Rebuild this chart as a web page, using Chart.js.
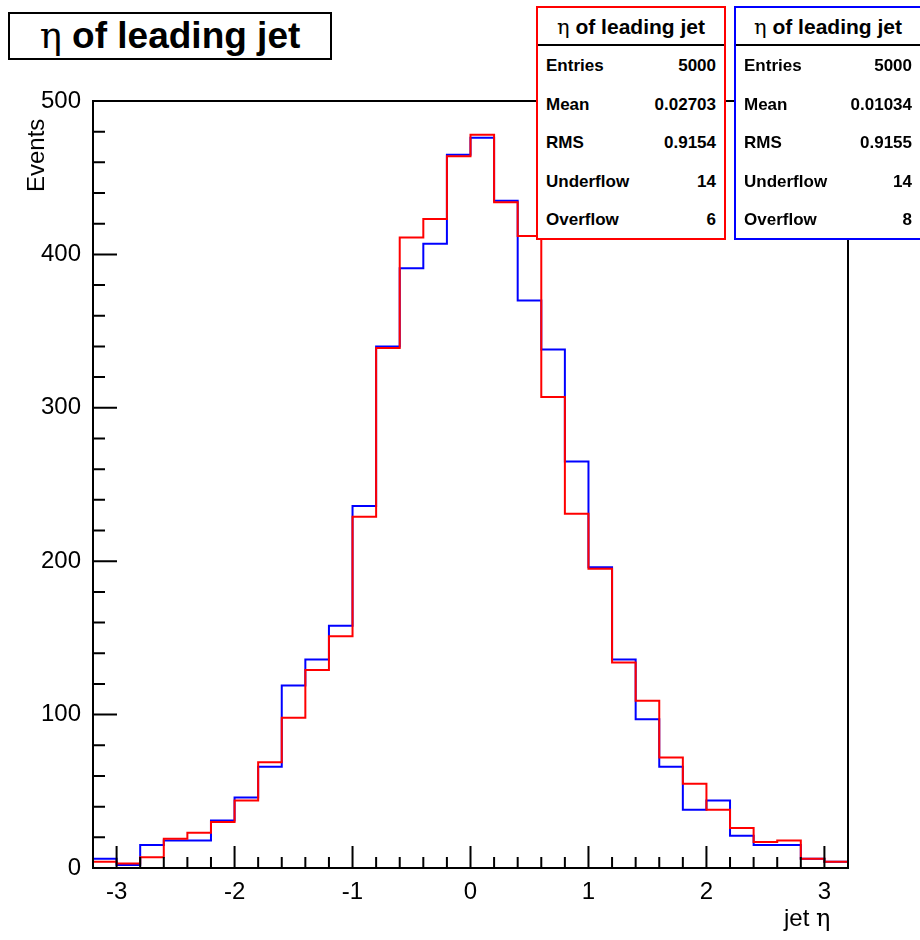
<!DOCTYPE html>
<html>
<head>
<meta charset="utf-8">
<script src="https://cdn.jsdelivr.net/npm/chart.js@4.4.0/dist/chart.umd.min.js"></script>
<style>
  body { margin: 0; background: #fff; font-family: "Liberation Sans", Arial, sans-serif; }
  #wrap { position: relative; width: 920px; height: 940px; }
  canvas { position: absolute; left: 0; top: 0; }
  .title { position: absolute; left: 8px; top: 12px; width: 320px; height: 44px; border: 2px solid #000;
           font-size: 37px; font-weight: bold; line-height: 44px; text-align: center; background: #fff; }
  .title span { font-weight: normal; font-family: "DejaVu Serif", serif; }
  .stat { position: absolute; top: 6px; height: 230px; background: #fff; border: 2px solid; font-weight: bold; font-size: 17px; }
  .stat .hd { height: 36px; line-height: 38px; text-align: center; font-size: 21px; border-bottom: 2px solid; white-space: nowrap; }
  .stat .hd span { font-weight: normal; font-family: "DejaVu Serif", serif; }
  .stat .row { position: relative; height: 38.5px; line-height: 40px; padding: 0 8px; }
  .stat .row b { position: absolute; right: 8px; }
  .axt { position: absolute; font-size: 24px; }
</style>
</head>
<body>
<div id="wrap">
  <canvas id="c" width="920" height="940"></canvas>
  <div class="title"><span>η</span> of leading jet</div>
  <div class="stat" id="redBox" style="left:536px;width:186px;border-color:#f00"></div>
  <div class="stat" id="blueBox" style="left:734px;width:184px;border-color:#00f"></div>
  <div class="axt" style="left:22px;transform:rotate(-90deg);transform-origin:left top;top:192px">Events</div>
  <div class="axt" style="left:784px;top:904px">jet <span style="font-family:'DejaVu Serif',serif">η</span></div>
</div>
<script>
// ======= Data =======
const binEdges = [-3.2,-3.0,-2.8,-2.6,-2.4,-2.2,-2.0,-1.8,-1.6,-1.4,-1.2,-1.0,-0.8,-0.6,-0.4,-0.2,
                  0.0,0.2,0.4,0.6,0.8,1.0,1.2,1.4,1.6,1.8,2.0,2.2,2.4,2.6,2.8,3.0,3.2];
const blueCounts = [6,2,15,18,18,31,46,66,119,136,158,236,340,391,407,465,
                    476,435,370,338,265,196,136,97,66,38,44,21,15,15,6,4];
const redCounts  = [4,3,7,19,23,30,44,69,98,129,151,229,339,411,423,464,
                    478,434,412,307,231,195,134,109,72,55,38,26,17,18,6,4];
const statLabels = ["Entries","Mean","RMS","Underflow","Overflow"];
const redStats  = ["5000","0.02703","0.9154","14","6"];
const blueStats = ["5000","0.01034","0.9155","14","8"];

// ======= Stat boxes =======
function fillBox(id, stats) {
  let html = '<div class="hd"><span>η</span> of leading jet</div>';
  statLabels.forEach((l, i) => { html += `<div class="row">${l}<b>${stats[i]}</b></div>`; });
  document.getElementById(id).innerHTML = html;
}
fillBox("redBox", redStats);
fillBox("blueBox", blueStats);

// each bin's value at its left edge, plus a closing point at the last edge
function toPoints(counts) {
  const pts = counts.map((v, i) => ({ x: binEdges[i], y: v }));
  pts.push({ x: binEdges[binEdges.length - 1], y: counts[counts.length - 1] });
  return pts;
}

// ======= ROOT-style frame + ticks =======
const frameTicks = {
  id: "frameTicks",
  afterDraw(chart) {
    const { ctx, chartArea: a, scales: { x, y } } = chart;
    ctx.save();
    ctx.strokeStyle = "#000";
    ctx.lineWidth = 2;
    ctx.strokeRect(a.left, a.top, a.right - a.left, a.bottom - a.top);
    ctx.beginPath();
    for (let i = -16; i <= 16; i++) {
      const px = x.getPixelForValue(i * 0.2);
      const len = i % 5 === 0 ? 22 : 11;
      ctx.moveTo(px, a.bottom); ctx.lineTo(px, a.bottom - len);
    }
    for (let v = 0; v <= 500; v += 20) {
      const py = y.getPixelForValue(v);
      const len = v % 100 === 0 ? 24 : 12;
      ctx.moveTo(a.left, py); ctx.lineTo(a.left + len, py);
    }
    ctx.stroke();
    ctx.restore();
  }
};

const ds = (data, color) => ({
  data: toPoints(data), borderColor: color, borderWidth: 2, stepped: "before",
  pointRadius: 0, fill: false
});

new Chart(document.getElementById("c"), {
  type: "line",
  data: { datasets: [ds(redCounts, "#ff0000"), ds(blueCounts, "#0000ff")] },
  options: {
    responsive: false, animation: false,
    layout: { padding: { top: 101, right: 72 } },
    plugins: { legend: { display: false }, tooltip: { enabled: false } },
    scales: {
      x: {
        type: "linear", min: -3.2, max: 3.2,
        afterBuildTicks: s => { s.ticks = [-3,-2,-1,0,1,2,3].map(v => ({ value: v })); },
        afterFit: s => { s.height = 72; },
        grid: { display: false }, border: { display: false },
        ticks: { color: "#000", font: { family: "Liberation Sans", size: 24 }, padding: 2 }
      },
      y: {
        min: 0, max: 500,
        ticks: { stepSize: 100, color: "#000", font: { family: "Liberation Sans", size: 24 }, padding: 4 },
        afterFit: s => { s.width = 93; },
        grid: { display: false }, border: { display: false }
      }
    }
  },
  plugins: [frameTicks]
});
</script>
</body>
</html>
